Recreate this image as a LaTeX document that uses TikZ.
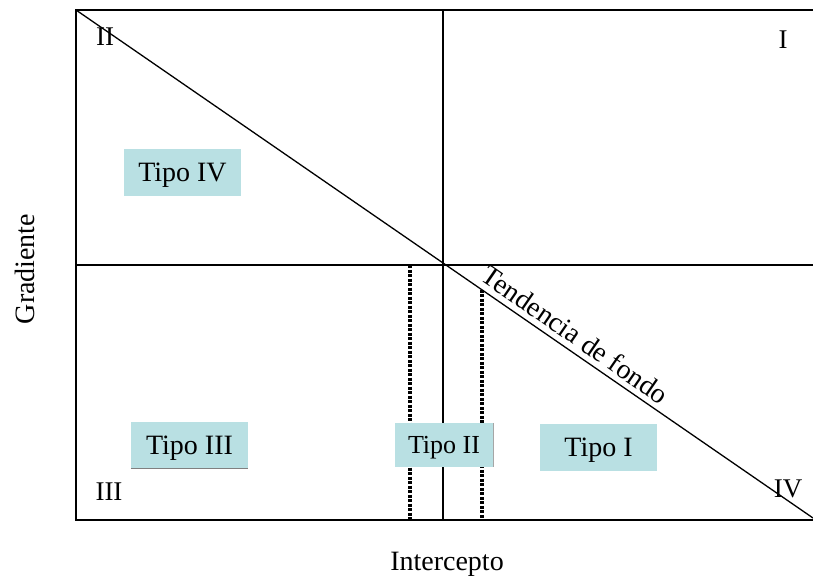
\documentclass[tikz,border=0pt]{standalone}
\usepackage{fontspec}
\setmainfont{Liberation Serif}
\usetikzlibrary{calc}
\definecolor{boxcyan}{RGB}{185,224,227}
\begin{document}
\begin{tikzpicture}[x=1pt,y=-1pt,
  axisline/.style={draw=black,line width=1.3pt},
  dotline/.style={draw=black,line width=3.2pt,dash pattern=on 3pt off 1.5pt},
  tipobox/.style={fill=boxcyan,inner sep=0pt,text height=18.5pt,text depth=0pt,font=\fontsize{28}{30}\selectfont},
  lbl/.style={font=\fontsize{27}{30}\selectfont,inner sep=0pt}]
\useasboundingbox (0,0) rectangle (813,583);
% frame coordinates
\coordinate (tl) at (76,10);
\coordinate (tr) at (813,10);
\coordinate (bl) at (76,520);
\coordinate (br) at (813,520);
\coordinate (mt) at (443,10);
\coordinate (mb) at (443,520);
\coordinate (ml) at (76,265);
\coordinate (mr) at (813,265);
\coordinate (de) at (813,518);
% dotted lines
\coordinate (d1t) at (410,265);
\coordinate (d1b) at (410,520);
\coordinate (d2t) at ($(tl)!0.5509!(de)$);
\coordinate (d2b) at (482,520);
\draw[dotline] (d1t) -- (d1b);
\draw[dotline] (d2t) -- (d2t |- d2b);
% frame
\draw[axisline] (tr) -- (tl) -- (bl) -- (br);
\draw[axisline] (mt) -- (mb);
\draw[axisline] (ml) -- (mr);
\draw[axisline] (tl) -- (de);
% boxes
\node[tipobox,minimum width=117pt,minimum height=47pt] (t4) at (182.5,172.5) {Tipo IV};
\node[tipobox,minimum width=117pt,minimum height=46pt] (t3) at (189.5,445) {Tipo III};
\draw[gray,line width=0.8pt] (t3.south west) -- (t3.south east);
\node[tipobox,minimum width=98pt,minimum height=44pt,text height=17pt,font=\fontsize{26}{28}\selectfont] (t2) at (444,445) {Tipo II};
\draw[gray!70,line width=0.6pt] (t2.north east) -- (t2.south east);
\node[tipobox,minimum width=117pt,minimum height=47pt] (t1) at (598.5,447.5) {Tipo I};
% quadrant labels
\node[lbl] (q2) at (105,37) {II};
\node[lbl] (q1) at (783,40) {I};
\node[lbl] (q3) at (109,492) {III};
\node[lbl] (q4) at (788,489) {IV};
% trend label
\coordinate (tp) at ($(tl)!0.6650!(de)$);
\node[lbl,rotate=-34.6,anchor=south,inner sep=6pt,font=\fontsize{28}{30}\selectfont] (trend) at (tp) {Tendencia de fondo};
% axis titles
\node[lbl,rotate=90,font=\fontsize{28}{30}\selectfont] (ylab) at (25,269) {Gradiente};
\node[lbl,font=\fontsize{28}{30}\selectfont] (xlab) at (447,564) {Intercepto};
\end{tikzpicture}
\end{document}
